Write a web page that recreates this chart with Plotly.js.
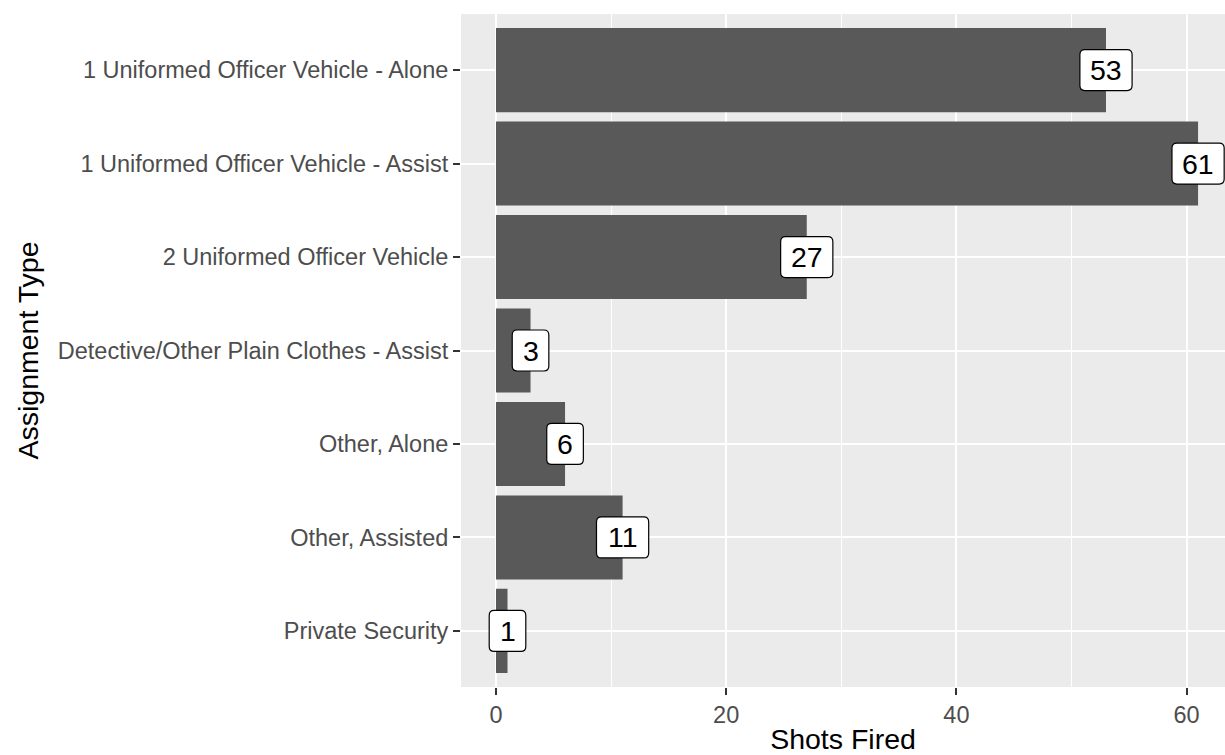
<!DOCTYPE html>
<html>
<head>
<meta charset="utf-8">
<script src="https://cdn.plot.ly/plotly-3.0.1.min.js"></script>
<style>html,body{margin:0;padding:0;overflow:hidden;background:#fff}</style>
</head>
<body>
<div id="chart" style="width:1225px;height:755px"></div>
<script>
const categories = [
  "1 Uniformed Officer Vehicle - Alone",
  "1 Uniformed Officer Vehicle - Assist",
  "2 Uniformed Officer Vehicle",
  "Detective/Other Plain Clothes - Assist",
  "Other, Alone",
  "Other, Assisted",
  "Private Security"
];
const shotsFired = [53, 61, 27, 3, 6, 11, 1];
const xTickVals = [0, 20, 40, 60];
const xTickText = ["0", "20", "40", "60"];
const xTitle = "Shots Fired";
const yTitle = "Assignment Type";

const FONT = "Liberation Sans, Arial, Helvetica, sans-serif";

const trace = {
  type: "bar",
  orientation: "h",
  x: shotsFired,
  y: categories,
  width: 0.9,
  marker: {color: "#595959", line: {width: 0}},
  hoverinfo: "skip"
};

// rounded label boxes anchored at data points, sized in pixels
function roundRect(hw, hh, r) {
  return `M ${-hw + r},${-hh} L ${hw - r},${-hh} Q ${hw},${-hh} ${hw},${-hh + r} ` +
         `L ${hw},${hh - r} Q ${hw},${hh} ${hw - r},${hh} L ${-hw + r},${hh} ` +
         `Q ${-hw},${hh} ${-hw},${hh - r} L ${-hw},${-hh + r} Q ${-hw},${-hh} ${-hw + r},${-hh} Z`;
}
const shapes = shotsFired.map((v, i) => {
  const nd = String(v).length;
  const hw = (nd * 15.6 + 21) / 2;
  return {
    type: "path", layer: "above",
    xref: "x", yref: "y",
    xsizemode: "pixel", ysizemode: "pixel",
    xanchor: v, yanchor: categories[i],
    path: roundRect(hw, 20.5, 5),
    fillcolor: "#ffffff",
    line: {color: "#000000", width: 1.2}
  };
});
const annotations = shotsFired.map((v, i) => ({
  x: v, y: categories[i], xref: "x", yref: "y",
  text: String(v), showarrow: false,
  xanchor: "center", yanchor: "middle",
  font: {family: FONT, size: 28.5, color: "#000000"}
}));

const layout = {
  width: 1225, height: 755,
  margin: {l: 461, r: 0, t: 14, b: 68, pad: 0},
  paper_bgcolor: "#ffffff",
  plot_bgcolor: "#EBEBEB",
  showlegend: false,
  font: {family: FONT},
  xaxis: {
    range: [-3.04, 63.34],
    tickmode: "array", tickvals: xTickVals, ticktext: xTickText,
    ticks: "outside", ticklen: 6.5, tickwidth: 2, tickcolor: "#333333",
    tickfont: {family: FONT, size: 23.5, color: "#4D4D4D"},
    showgrid: true, gridcolor: "#FFFFFF", gridwidth: 2,
    minor: {tickmode: "array", tickvals: [10, 30, 50], showgrid: true, gridcolor: "#FFFFFF", gridwidth: 1.1, ticks: ""},
    zeroline: false, showline: false, automargin: false,
    title: {text: xTitle, font: {family: FONT, size: 28.5, color: "#000000"}, standoff: 4}
  },
  yaxis: {
    type: "category",
    categoryorder: "array", categoryarray: categories,
    range: [6.6, -0.6],
    ticks: "outside", ticklen: 7, tickwidth: 2, tickcolor: "#333333",
    tickfont: {family: FONT, size: 23.5, color: "#4D4D4D"},
    showgrid: true, gridcolor: "#FFFFFF", gridwidth: 2,
    zeroline: false, showline: false, automargin: false,
    title: {text: yTitle, font: {family: FONT, size: 28.5, color: "#000000"}, standoff: 10}
  },
  shapes: shapes,
  annotations: annotations
};

Plotly.newPlot("chart", [trace], layout, {staticPlot: true, displayModeBar: false});
</script>
</body>
</html>
